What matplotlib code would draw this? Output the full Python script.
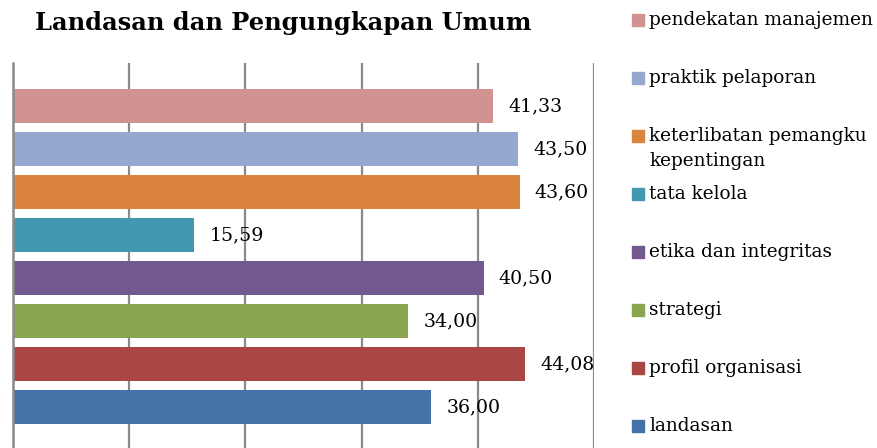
import matplotlib.pyplot as plt
from matplotlib.patches import Rectangle

# data, bottom to top as drawn
categories = ["landasan", "profil organisasi", "strategi", "etika dan integritas",
              "tata kelola", "keterlibatan pemangku\nkepentingan",
              "praktik pelaporan", "pendekatan manajemen"]
values = [36.00, 44.08, 34.00, 40.50, 15.59, 43.60, 43.50, 41.33]
colors = ["#4572A7", "#AA4643", "#89A54E", "#71588F",
          "#4198AF", "#DB843D", "#95A9D0", "#D19392"]

FONT = "DejaVu Serif"
W, H = 877, 448

fig = plt.figure(figsize=(W / 100, H / 100), dpi=100)
ax = fig.add_axes([13 / W, -2 / H, (594 - 13) / W, (450 - 63) / H])

pos = list(range(len(values)))
ax.barh(pos, values, height=0.81, color=colors, zorder=2)

for p, v in zip(pos, values):
    ax.text(v + 1.3, p, f"{v:.2f}".replace(".", ","), va="center", ha="left",
            fontsize=13.6, family=FONT, color="black", zorder=3)

ax.set_xlim(0, 50)
ax.set_ylim(-1, 8)
ax.set_xticks(range(0, 51, 10))
ax.set_yticks([])
ax.tick_params(axis="x", length=0, labelbottom=False)
ax.grid(axis="x", color="#8a8a8a", linewidth=1.6, zorder=0)
for side in ["top", "right", "bottom"]:
    ax.spines[side].set_visible(False)
ax.spines["left"].set_color("#8a8a8a")
ax.spines["left"].set_linewidth(1.8)

fig.text(283 / W, 1 - 23 / H, "Landasan dan Pengungkapan Umum", ha="center",
         va="center", fontsize=17.4, fontweight="bold", family=FONT)

# legend, top to bottom
y0, step = 20, 58
for i, (name, c) in enumerate(zip(categories[::-1], colors[::-1])):
    yc = y0 + i * step
    fig.patches.append(Rectangle((632 / W, 1 - (yc + 6) / H), 12 / W, 12 / H,
                                 transform=fig.transFigure, color=c))
    for j, line in enumerate(name.split("\n")):
        fig.text(649 / W, 1 - (yc + j * 25) / H, line, ha="left", va="center",
                 fontsize=13.3, family=FONT)

fig.savefig("out.png", dpi=100)
